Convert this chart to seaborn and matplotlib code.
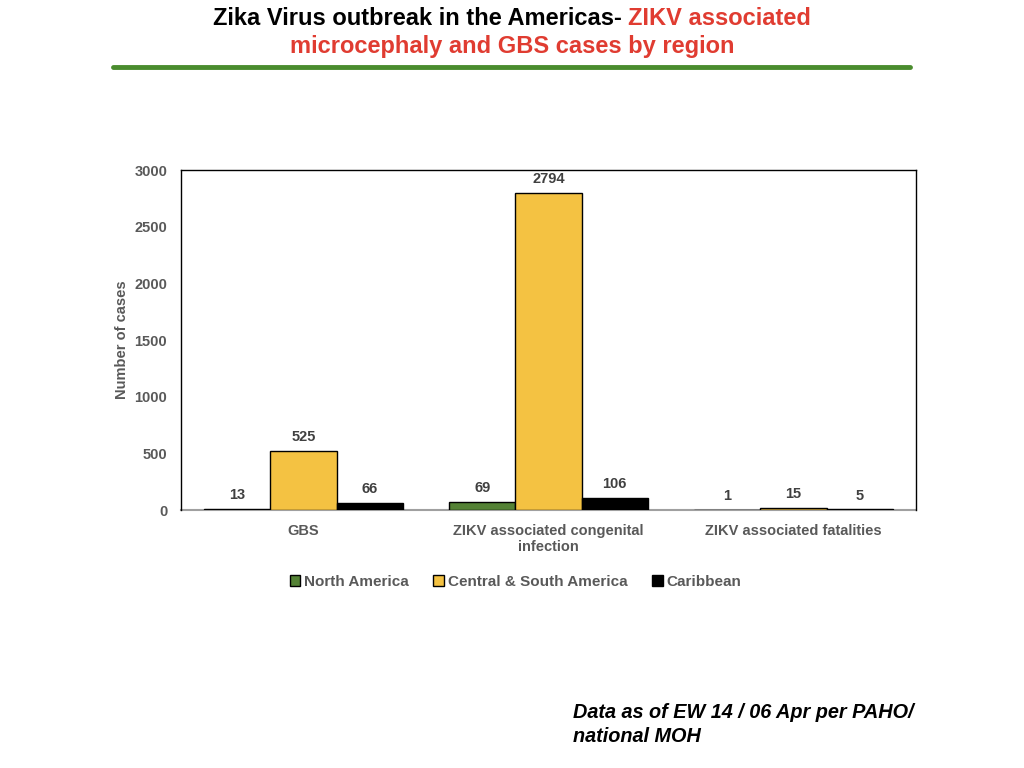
import matplotlib
matplotlib.use("Agg")
from matplotlib import pyplot as plt
from matplotlib.font_manager import fontManager
import pandas as pd
import seaborn as sb

categories = ["GBS", "ZIKV associated congenital\ninfection", "ZIKV associated fatalities"]
regions = ["North America", "Central & South America", "Caribbean"]
north_america = [13, 69, 1]
central_south = [525, 2794, 15]
caribbean = [66, 106, 5]

colors = ["#548235", "#F4C242", "#000000"]
gray = "#595959"

rows = []
for i, cat in enumerate(categories):
    rows.append({"Category": cat, "Region": regions[0], "Cases": north_america[i]})
    rows.append({"Category": cat, "Region": regions[1], "Cases": central_south[i]})
    rows.append({"Category": cat, "Region": regions[2], "Cases": caribbean[i]})
df = pd.DataFrame(rows)

sb.set_style("white")
names = {f.name for f in fontManager.ttflist}
title_font = "Liberation Sans Narrow" if "Liberation Sans Narrow" in names else "Liberation Sans"
plt.rcParams["font.family"] = ["Liberation Sans", "DejaVu Sans"]

fig = plt.figure(figsize=(10.24, 7.68), dpi=100)
ax = fig.add_axes([0.1768, 0.3359, 0.7178, 0.4427])

sb.barplot(data=df, x="Category", y="Cases", hue="Region", palette=colors,
           width=0.81, edgecolor="black", linewidth=1.0, saturation=1, ax=ax)

for cont in ax.containers:
    for bar in cont:
        bar.set_zorder(3)
        h = bar.get_height()
        ax.annotate(str(int(h)), (bar.get_x() + bar.get_width() / 2, h),
                    xytext=(0, 5), textcoords="offset points", ha="center", va="bottom",
                    fontsize=10.5, fontweight="bold", color="#404040")

ax.set_ylim(0, 3000)
ax.set_yticks([0, 500, 1000, 1500, 2000, 2500, 3000])
ax.set_xlim(-0.5, 2.5)
ax.tick_params(axis="both", length=0, labelsize=10.5, colors=gray, pad=10)
for lab in ax.get_xticklabels() + ax.get_yticklabels():
    lab.set_fontweight("bold")
ax.set_xlabel("")
ax.set_ylabel("Number of cases", fontsize=10.5, fontweight="bold", color=gray, labelpad=4)
for s in ["top", "right", "left"]:
    ax.spines[s].set_color("black")
    ax.spines[s].set_linewidth(1)
ax.spines["bottom"].set_color("#A0A0A0")
ax.spines["bottom"].set_linewidth(1.5)
ax.spines["bottom"].set_zorder(2)

leg = ax.legend(loc="upper center", bbox_to_anchor=(0.455, -0.15), ncol=3, frameon=False,
                handlelength=0.7, handleheight=0.7, handletextpad=0.25, columnspacing=1.6,
                fontsize=11)
for t in leg.get_texts():
    t.set_fontweight("bold")
    t.set_color(gray)

# title in two colours
t1 = fig.text(0.2, 1 - 25 / 768, "Zika Virus outbreak in the Americas- ", fontsize=17,
              fontweight="bold", family=title_font, color="black", va="baseline", ha="left")
t2 = fig.text(0, 0, "ZIKV associated", fontsize=17, fontweight="bold", family=title_font,
              color="#E03C31", va="baseline", ha="left")
fig.canvas.draw()
r = fig.canvas.get_renderer()
w1 = t1.get_window_extent(r).width
w2 = t2.get_window_extent(r).width
x0 = (1024 - (w1 + w2)) / 2
t1.set_x(x0 / 1024)
t2.set_position(((x0 + w1) / 1024, 1 - 25 / 768))
fig.text(0.5, 1 - 53 / 768, "microcephaly and GBS cases by region", fontsize=17,
         fontweight="bold", family=title_font, color="#E03C31", va="baseline", ha="center")

fig.add_artist(plt.Line2D([113 / 1024, 910 / 1024], [1 - 67 / 768, 1 - 67 / 768],
                          color="#4A8C2E", linewidth=3.5))

fig.text(573 / 1024, 1 - 703 / 768, "Data as of EW 14 / 06 Apr per PAHO/\nnational MOH",
         fontsize=14.3, fontweight="bold", style="italic", color="black",
         va="top", ha="left", linespacing=1.3)

plt.savefig("out.png", dpi=100)
plt.close("all")
